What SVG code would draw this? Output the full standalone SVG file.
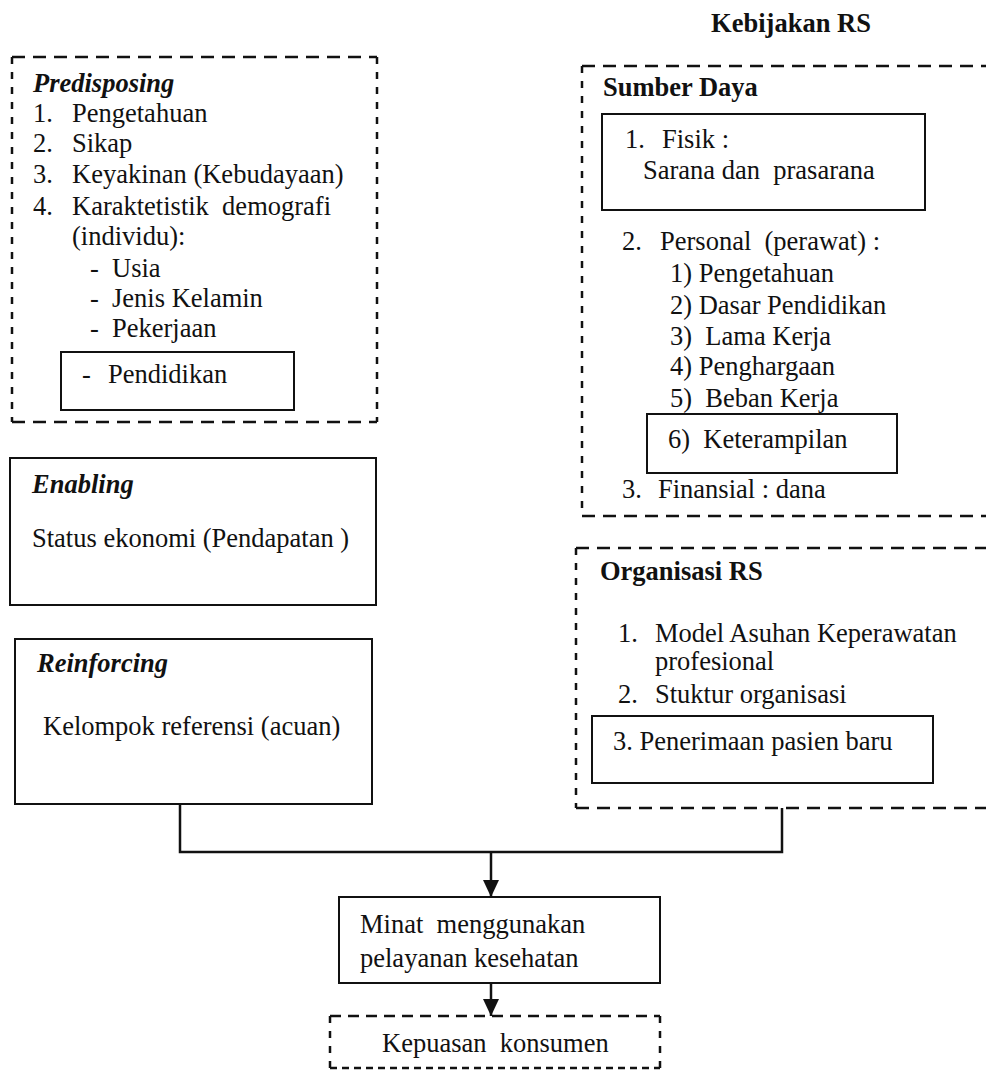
<svg xmlns="http://www.w3.org/2000/svg" width="986" height="1071" viewBox="0 0 986 1071">
<defs>
<style>
text{font-family:"Liberation Serif","Times New Roman",serif;font-size:26.5px;fill:#111;white-space:pre}
.b{font-weight:bold}
.bi{font-weight:bold;font-style:italic}
.solid{fill:none;stroke:#111;stroke-width:2}
.dh{fill:none;stroke:#111;stroke-width:2.5;stroke-dasharray:13 8}
.dv{fill:none;stroke:#111;stroke-width:2.5;stroke-dasharray:7 8}
.dk{fill:none;stroke:#111;stroke-width:2.5;stroke-dasharray:11 7}
.dkb{fill:none;stroke:#111;stroke-width:2.5;stroke-dasharray:7 5}
.conn{fill:none;stroke:#111;stroke-width:2.5}
</style>
<marker id="arr" viewBox="0 0 17 16" refX="17" refY="8" markerWidth="17" markerHeight="16" markerUnits="userSpaceOnUse" orient="auto">
<path d="M0,0 L17,8 L0,16 z" fill="#111"/>
</marker>
</defs>
<rect width="986" height="1071" fill="#fff"/>

<g id="title">
<text class="b" x="791" y="32" text-anchor="middle">Kebijakan RS</text>
</g>

<g id="predisposing">
<path class="dh" d="M12,57 H377 M12,422 H377"/>
<path class="dv" d="M12,57 V422 M377,57 V422"/>
<text class="bi" x="33" y="92">Predisposing</text>
<text x="33" y="122">1.</text><text x="72" y="122">Pengetahuan</text>
<text x="33" y="152">2.</text><text x="72" y="152">Sikap</text>
<text x="33" y="183">3.</text><text x="72" y="183">Keyakinan (Kebudayaan)</text>
<text x="33" y="215">4.</text><text x="72" y="215">Karaktetistik  demografi</text>
<text x="72" y="245">(individu):</text>
<text x="90" y="277">-</text><text x="112" y="277">Usia</text>
<text x="90" y="307">-</text><text x="112" y="307">Jenis Kelamin</text>
<text x="90" y="337">-</text><text x="112" y="337">Pekerjaan</text>
<rect class="solid" x="61" y="352" width="233" height="58"/>
<text x="82" y="383">-</text><text x="108" y="383">Pendidikan</text>
</g>

<g id="enabling">
<rect class="solid" x="10" y="458" width="366" height="147"/>
<text class="bi" x="32" y="493">Enabling</text>
<text x="32" y="547">Status ekonomi (Pendapatan )</text>
</g>

<g id="reinforcing">
<rect class="solid" x="15" y="639" width="357" height="165"/>
<text class="bi" x="37" y="672">Reinforcing</text>
<text x="43" y="735">Kelompok referensi (acuan)</text>
</g>

<g id="sumber-daya">
<path class="dh" d="M582,66 H986 M582,516 H986"/>
<path class="dv" d="M582,66 V516"/>
<text class="b" x="603" y="96">Sumber Daya</text>
<rect class="solid" x="602" y="114" width="323" height="96"/>
<text x="625" y="148">1.</text><text x="662" y="148">Fisik :</text>
<text x="643" y="179">Sarana dan  prasarana</text>
<text x="622" y="250">2.</text><text x="660" y="250">Personal  (perawat) :</text>
<text x="670" y="282">1) Pengetahuan</text>
<text x="670" y="314">2) Dasar Pendidikan</text>
<text x="670" y="345">3)  Lama Kerja</text>
<text x="670" y="375">4) Penghargaan</text>
<text x="670" y="407">5)  Beban Kerja</text>
<rect class="solid" x="647" y="414" width="250" height="59"/>
<text x="668" y="448">6)  Keterampilan</text>
<text x="622" y="498">3.</text><text x="658" y="498">Finansial : dana</text>
</g>

<g id="organisasi-rs">
<path class="dh" d="M576,548 H986 M576,808 H986"/>
<path class="dv" d="M576,548 V808"/>
<text class="b" x="600" y="580">Organisasi RS</text>
<text x="618" y="642">1.</text><text x="655" y="642">Model Asuhan Keperawatan</text>
<text x="655" y="670">profesional</text>
<text x="618" y="703">2.</text><text x="655" y="703">Stuktur organisasi</text>
<rect class="solid" x="592" y="716" width="341" height="67"/>
<text x="613" y="750">3. Penerimaan pasien baru</text>
</g>

<g id="minat">
<rect class="solid" x="339" y="897" width="321" height="86"/>
<text x="360" y="933">Minat  menggunakan</text>
<text x="360" y="967">pelayanan kesehatan</text>
</g>

<g id="kepuasan">
<path class="dk" d="M330,1016 H660"/>
<path class="dkb" d="M330,1068 H660"/>
<path class="dv" d="M330,1016 V1068 M660,1016 V1068"/>
<text x="382" y="1052">Kepuasan  konsumen</text>
</g>

<g id="connectors">
<path class="conn" d="M180,804 V852 H782 V808"/>
<path class="conn" d="M491,852 V897" marker-end="url(#arr)"/>
<path class="conn" d="M491,983 V1016" marker-end="url(#arr)"/>
</g>
</svg>
